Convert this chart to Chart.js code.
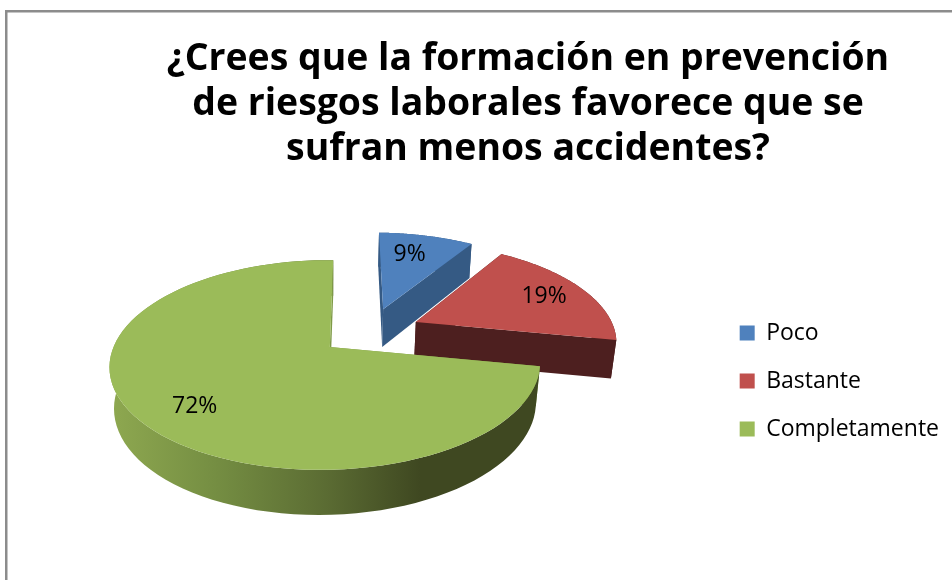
<!DOCTYPE html>
<html lang="es">
<head>
<meta charset="utf-8">
<title>Formación en prevención</title>
<script src="https://cdn.jsdelivr.net/npm/chart.js@4"></script>
<style>
    html, body { margin: 0; padding: 0; background: #fff; }
    canvas { display: block; }
</style>
</head>
<body>
<canvas id="chart" width="952" height="580"></canvas>
<script>
'use strict';

// ----- Data -----
const categories = ['Poco', 'Bastante', 'Completamente'];
const percentages = [9, 19, 72];
const titleLines = [
    '¿Crees que la formación en prevención',
    'de riesgos laborales favorece que se',
    'sufran menos accidentes?'
];

// ----- Colours -----
const topColors = ['#4f81bd', '#c0504d', '#9bbb59'];
const wallColors = ['#355a84', '#4d1f1f', '#7f9a48'];

// ----- Fake 3D camera (Chart.js only knows flat pies) -----
const camera = {
    shiftX: -81,        // apex of the green slice relative to the chart centre
    shiftY: -34,
    squash: 0.48,       // vertical radius / horizontal radius
    tilt: 0.1715,       // perspective front to back
    yaw: 0.02,          // perspective left to right
    shear: 4,           // back of the pie leans to the right, px
    depth: 0.4,         // height of the pie
    depthFade: 0.02     // lower face is a bit smaller
};
// where the % labels sit on their slice: fraction of the radius, turn from the middle angle
const labelFractions = [0.71, 0.76, 0.77];
const labelTurns = [-0.045, 0, -0.06];

function makeProjector(arc) {
    const props = arc.getProps(['x', 'y', 'outerRadius']);
    const R = props.outerRadius;
    // Chart.js moves an arc by offset / 4 along its middle angle
    const explode = 0.25;
    // true centre in the coordinates of the green apex
    const greenMid = Math.PI * 2 * (percentages[0] + percentages[1] + percentages[2] / 2) / 100 - Math.PI / 2;
    const cx = -Math.cos(greenMid) * explode;
    const cy = -Math.sin(greenMid) * explode;

    return function (u, v, z) {
        const g = u + cx;
        const h = v + cy;
        const w = 1 / (1 - camera.tilt * h + camera.yaw * g + camera.depthFade * z);
        return {
            x: props.x + camera.shiftX + (R * g - camera.shear * h) * w,
            y: props.y + camera.shiftY + R * camera.squash * (h + camera.depth * z) * w
        };
    };
}

function fillPolygon(ctx, points, fill) {
    ctx.beginPath();
    points.forEach((p, i) => (i ? ctx.lineTo(p.x, p.y) : ctx.moveTo(p.x, p.y)));
    ctx.closePath();
    ctx.fillStyle = fill;
    ctx.fill();
}

function greenWallGradient(ctx) {
    const g = ctx.createLinearGradient(111, 0, 540, 0);
    g.addColorStop(0, '#8ea850');
    g.addColorStop(0.25, '#748d42');
    g.addColorStop(0.5, '#5b6c33');
    g.addColorStop(0.72, '#3f4821');
    g.addColorStop(1, '#3f4821');
    return g;
}

function drawSlice(ctx, arc, index) {
    const project = makeProjector(arc);
    const { startAngle, endAngle, options } = arc;
    const explode = (options.offset / 4) / arc.outerRadius;
    const mid = (startAngle + endAngle) / 2;
    const ax = Math.cos(mid) * explode;
    const ay = Math.sin(mid) * explode;
    const steps = 90;

    const rim = (z) => {
        const pts = [];
        for (let i = 0; i <= steps; i++) {
            const a = startAngle + (endAngle - startAngle) * i / steps;
            pts.push(project(ax + Math.cos(a), ay + Math.sin(a), z));
        }
        return pts;
    };
    const topRim = rim(0);
    const lowRim = rim(1);
    const apexTop = project(ax, ay, 0);
    const apexLow = project(ax, ay, 1);
    const wall = wallColors[index];

    // start wall, outer wall, end wall, then the lid
    fillPolygon(ctx, [apexTop, topRim[0], lowRim[0], apexLow], wall);
    const outer = index === 2 ? greenWallGradient(ctx) : wall;
    fillPolygon(ctx, topRim.concat(lowRim.slice().reverse()), outer);
    fillPolygon(ctx, [apexTop, topRim[steps], lowRim[steps], apexLow], wall);
    fillPolygon(ctx, [apexTop].concat(topRim), topColors[index]);
}

function drawLabel(ctx, arc, index) {
    const project = makeProjector(arc);
    const explode = (arc.options.offset / 4) / arc.outerRadius;
    const mid = (arc.startAngle + arc.endAngle) / 2;
    const turned = mid + labelTurns[index];
    const r = labelFractions[index];
    const p = project(Math.cos(mid) * explode + Math.cos(turned) * r, Math.sin(mid) * explode + Math.sin(turned) * r, 0);
    ctx.fillStyle = '#000';
    ctx.font = '23px "Open Sans"';
    ctx.textAlign = 'center';
    ctx.textBaseline = 'middle';
    ctx.fillText(percentages[index] + '%', p.x, p.y);
}

// Draws the arcs of the doughnut controller as a 3D pie
const pie3dPlugin = {
    id: 'pie3d',
    beforeDraw(chart) {
        const { ctx, width, height } = chart;
        ctx.save();
        ctx.fillStyle = '#8c8c8c';
        ctx.fillRect(5, 10, width - 5, 2.5);
        ctx.fillRect(5, 10, 2.5, height - 10);
        ctx.restore();
    },
    beforeDatasetDraw(chart, args) {
        const { ctx } = chart;
        const arcs = args.meta.data;
        ctx.save();
        arcs.forEach((arc, i) => drawSlice(ctx, arc, i));
        arcs.forEach((arc, i) => drawLabel(ctx, arc, i));
        ctx.restore();
        return false;
    }
};

new Chart(document.getElementById('chart'), {
    type: 'pie',
    data: {
        labels: categories,
        datasets: [{
            data: percentages,
            backgroundColor: topColors,
            borderWidth: 0,
            offset: 212,
            radius: 212
        }]
    },
    options: {
        responsive: false,
        animation: false,
        layout: { padding: { left: 107, right: 3 } },
        plugins: {
            tooltip: { enabled: false },
            title: {
                display: true,
                text: titleLines,
                color: '#000',
                font: { family: '"Open Sans"', size: 37.4, weight: 'bold', lineHeight: 45 / 37.4 },
                padding: { top: 37, bottom: 10 }
            },
            legend: {
                position: 'right',
                fullSize: false,
                labels: {
                    color: '#000',
                    boxWidth: 15,
                    boxHeight: 15,
                    padding: 25,
                    font: { family: '"Open Sans"', size: 23 }
                }
            }
        }
    },
    plugins: [pie3dPlugin]
});
</script>
</body>
</html>
